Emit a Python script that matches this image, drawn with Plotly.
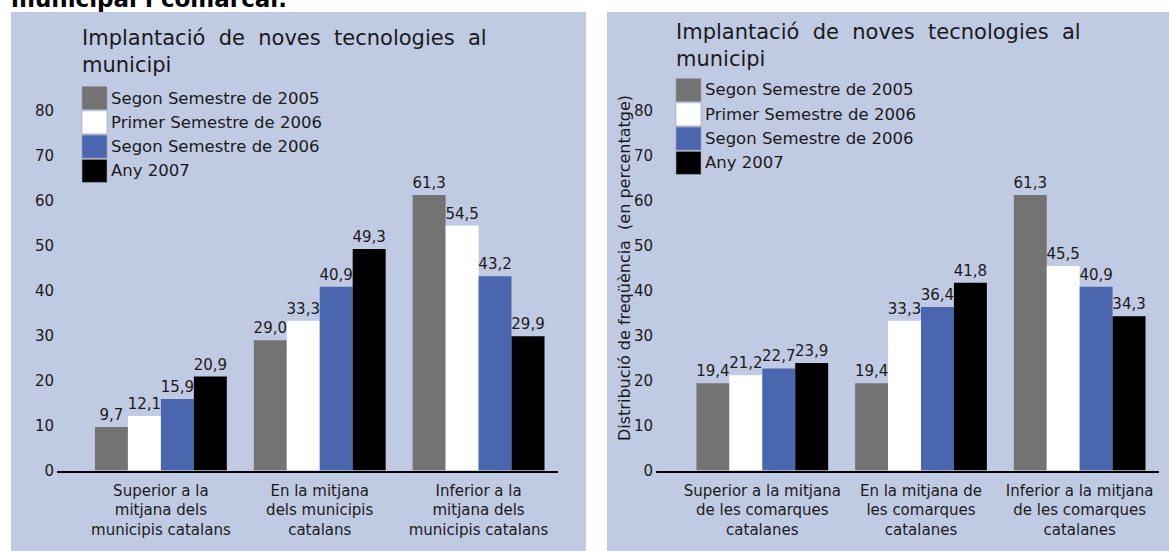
import plotly.graph_objects as go

# ---------------- data ----------------
series_names = ["Segon Semestre de 2005", "Primer Semestre de 2006",
                "Segon Semestre de 2006", "Any 2007"]
series_colors = ["#737373", "#FFFFFF", "#4A66AF", "#000000"]

left_categories = ["Superior a la<br>mitjana dels<br>municipis catalans",
                   "En la mitjana<br>dels municipis<br>catalans",
                   "Inferior a la<br>mitjana dels<br>municipis catalans"]
left_s2005 = [9.7, 29.0, 61.3]
left_p2006 = [12.1, 33.3, 54.5]
left_s2006 = [15.9, 40.9, 43.2]
left_a2007 = [20.9, 49.3, 29.9]

right_categories = ["Superior a la mitjana<br>de les comarques<br>catalanes",
                    "En la mitjana de<br>les comarques<br>catalanes",
                    "Inferior a la mitjana<br>de les comarques<br>catalanes"]
right_s2005 = [19.4, 19.4, 61.3]
right_p2006 = [21.2, 33.3, 45.5]
right_s2006 = [22.7, 36.4, 40.9]
right_a2007 = [23.9, 41.8, 34.3]

y_ticks = [0, 10, 20, 30, 40, 50, 60, 70, 80]
chart_title = "Implantació\u00a0 de\u00a0 noves\u00a0 tecnologies\u00a0 al<br>municipi"
right_ytitle = "Distribució de freqüència  (en percentatge)"
page_heading = "municipal i comarcal."

# ---------------- layout constants ----------------
W, H = 1169, 551
FONT = "DejaVu Sans"
PANEL = "#C1CAE3"
TXT = "#1a1a1a"


def px(x):
    return x / W


def py(y):
    return 1 - y / H


fig = go.Figure()

left_vals = [left_s2005, left_p2006, left_s2006, left_a2007]
right_vals = [right_s2005, right_p2006, right_s2006, right_a2007]


def fmt(v):
    return f"{v:.1f}".replace(".", ",")


for i, name in enumerate(series_names):
    fig.add_trace(go.Bar(
        x=left_categories, y=left_vals[i], name=name,
        marker=dict(color=series_colors[i], line=dict(width=0)),
        text=[fmt(v) for v in left_vals[i]], textposition="outside",
        textfont=dict(family=FONT, size=15, color=TXT),
        constraintext="none", cliponaxis=False,
        xaxis="x", yaxis="y", showlegend=False))
    fig.add_trace(go.Bar(
        x=right_categories, y=right_vals[i], name=name,
        marker=dict(color=series_colors[i], line=dict(width=0)),
        text=[fmt(v) for v in right_vals[i]], textposition="outside",
        textfont=dict(family=FONT, size=15, color=TXT),
        constraintext="none", cliponaxis=False,
        xaxis="x2", yaxis="y2", showlegend=False))

y_bottom = py(470.5)
y_top = py(470.5 - 88 * 4.494)

axis_common = dict(showgrid=False, zeroline=False, automargin=False)
fig.update_layout(
    width=W, height=H,
    margin=dict(l=0, r=0, t=0, b=0, pad=0),
    paper_bgcolor="white", plot_bgcolor="rgba(0,0,0,0)",
    barmode="group", bargap=0.17, bargroupgap=0,
    font=dict(family=FONT, size=15, color=TXT),
    xaxis=dict(domain=[px(57), px(558)], range=[-0.654, 2.5], type="category",
               showline=True, linecolor="black", linewidth=2, ticks="",
               tickfont=dict(size=15, color=TXT), ticklabelstandoff=5,
               anchor="y", **axis_common),
    yaxis=dict(domain=[y_bottom, y_top], range=[0, 88], tickvals=y_ticks,
               showline=False, ticks="", tickfont=dict(size=15, color=TXT),
               ticklabelstandoff=2, anchor="x", **axis_common),
    xaxis2=dict(domain=[px(656), px(1159)], range=[-0.67, 2.5], type="category",
                showline=True, linecolor="black", linewidth=2, ticks="",
                tickfont=dict(size=15, color=TXT), ticklabelstandoff=5,
                anchor="y2", **axis_common),
    yaxis2=dict(domain=[y_bottom, y_top], range=[0, 88], tickvals=y_ticks,
                showline=False, ticks="", tickfont=dict(size=15, color=TXT),
                ticklabelstandoff=2, anchor="x2", **axis_common),
)

shapes = [
    dict(type="rect", xref="paper", yref="paper", x0=px(11), x1=px(586),
         y0=0, y1=py(12), fillcolor=PANEL, line=dict(width=0), layer="below"),
    dict(type="rect", xref="paper", yref="paper", x0=px(607), x1=1,
         y0=0, y1=py(12), fillcolor=PANEL, line=dict(width=0), layer="below"),
]
annotations = [
    dict(text=f"<b>{page_heading}</b>", xref="paper", yref="paper",
         x=px(9), y=py(-1), xanchor="left", yanchor="middle", showarrow=False,
         font=dict(size=23, color="black", family=FONT)),
    dict(text=chart_title, xref="paper", yref="paper", x=px(80), y=py(24),
         xanchor="left", yanchor="top", align="left", showarrow=False,
         font=dict(size=21, color=TXT, family=FONT)),
    dict(text=chart_title, xref="paper", yref="paper", x=px(674), y=py(18),
         xanchor="left", yanchor="top", align="left", showarrow=False,
         font=dict(size=21, color=TXT, family=FONT)),
    dict(text=right_ytitle, xref="paper", yref="paper", x=px(624), y=py(268),
         xanchor="center", yanchor="middle", textangle=-90, showarrow=False,
         font=dict(size=16, color=TXT, family=FONT)),
]

# manual legends (big swatches)
legend_specs = [(82, 98), (676, 90)]
for lx, ly0 in legend_specs:
    for i, name in enumerate(series_names):
        cy = ly0 + i * 24.3
        shapes.append(dict(type="rect", xref="paper", yref="paper",
                           x0=px(lx), x1=px(lx + 25), y0=py(cy + 11.5), y1=py(cy - 11.5),
                           fillcolor=series_colors[i],
                           line=dict(color="#9aa0b0", width=0.6)))
        annotations.append(dict(text=name, xref="paper", yref="paper",
                                x=px(lx + 27), y=py(cy), xanchor="left", yanchor="middle",
                                showarrow=False,
                                font=dict(size=16.5, color=TXT, family=FONT)))

fig.update_layout(shapes=shapes, annotations=annotations)
fig.write_html("out.html", config={"displayModeBar": False},
               post_script="document.body.style.margin='0';document.body.style.overflow='hidden';")
